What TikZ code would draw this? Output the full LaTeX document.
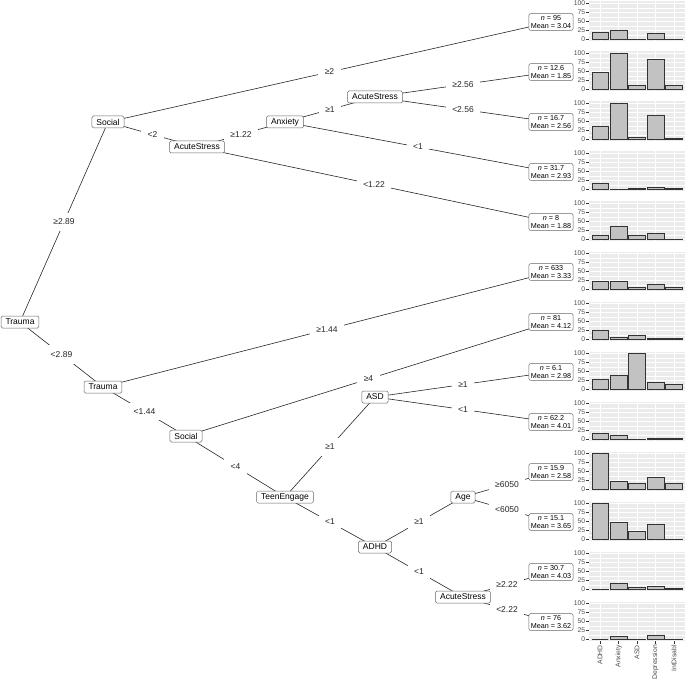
\documentclass[tikz,border=0pt]{standalone}
\usepackage{fontspec}
\setmainfont{Liberation Sans}
\usepackage{tikz}
\usepackage{xcolor}
\usetikzlibrary{calc}
\pgfdeclarelayer{back}
\pgfsetlayers{back,main}
\definecolor{panelgrey}{HTML}{EBEBEB}
\definecolor{bargrey}{HTML}{C2C2C2}
\definecolor{axisgrey}{HTML}{4D4D4D}
\definecolor{tickgrey}{HTML}{333333}

\begin{document}
\begin{tikzpicture}[x=1pt,y=-1pt]
        \tikzstyle{split}=[draw=black!60,fill=white,line width=0.5pt,rounded corners=1.5pt,inner xsep=4.5pt,inner ysep=0pt,minimum height=12pt,font=\fontsize{8.5}{10}\selectfont]
        \tikzstyle{leaf}=[draw=black!60,fill=white,line width=0.5pt,rounded corners=2pt,inner xsep=2pt,inner ysep=1.5pt,align=center,font=\fontsize{7.2}{8.8}\selectfont]
        \tikzstyle{cut}=[fill=white,inner xsep=6.5pt,inner ysep=6pt,midway,font=\fontsize{8.5}{10}\selectfont,text=black!85]
        \tikzstyle{edge}=[black!85,line width=0.6pt]
        \tikzstyle{tick}=[font=\fontsize{6.8}{8}\selectfont,text=axisgrey,inner sep=0pt]
        \useasboundingbox (0,0) rectangle (685,679);
        % Splits
        \node[split] (1) at (20,322) {Trauma};
        \node[split] (2) at (108,122) {Social};
        \node[split] (4) at (197,147) {AcuteStress};
        \node[split] (5) at (285,122) {Anxiety};
        \node[split] (6) at (375,97) {AcuteStress};
        \node[split] (11) at (103,387) {Trauma};
        \node[split] (13) at (186,436) {Social};
        \node[split] (15) at (285,497) {TeenEngage};
        \node[split] (16) at (375,397) {ASD};
        \node[split] (19) at (375,547) {ADHD};
        \node[split] (20) at (463,497) {Age};
        \node[split] (23) at (463,597) {AcuteStress};
        % Leaves
        \node[leaf] (3) at (551,22) {\textit{n} = 95\\Mean = 3.04};
        \node[leaf] (7) at (551,72) {\textit{n} = 12.6\\Mean = 1.85};
        \node[leaf] (8) at (551,122) {\textit{n} = 16.7\\Mean = 2.56};
        \node[leaf] (9) at (551,172) {\textit{n} = 31.7\\Mean = 2.93};
        \node[leaf] (10) at (551,222) {\textit{n} = 8\\Mean = 1.88};
        \node[leaf] (12) at (551,272) {\textit{n} = 633\\Mean = 3.33};
        \node[leaf] (14) at (551,322) {\textit{n} = 81\\Mean = 4.12};
        \node[leaf] (17) at (551,372) {\textit{n} = 6.1\\Mean = 2.98};
        \node[leaf] (18) at (551,422) {\textit{n} = 62.2\\Mean = 4.01};
        \node[leaf] (21) at (551,472) {\textit{n} = 15.9\\Mean = 2.58};
        \node[leaf] (22) at (551,522) {\textit{n} = 15.1\\Mean = 3.65};
        \node[leaf] (24) at (551,572) {\textit{n} = 30.7\\Mean = 4.03};
        \node[leaf] (25) at (551,622) {\textit{n} = 76\\Mean = 3.62};
        % Edges
        \begin{pgfonlayer}{back}
        \draw[edge] (1.center)--(2.center) node[cut] {≥2.89};
        \draw[edge] (2.center)--(3.center) node[cut] {≥2};
        \draw[edge] (2.center)--(4.center) node[cut] {<2};
        \draw[edge] (4.center)--(5.center) node[cut] {≥1.22};
        \draw[edge] (5.center)--(6.center) node[cut] {≥1};
        \draw[edge] (6.center)--(7.center) node[cut] {≥2.56};
        \draw[edge] (6.center)--(8.center) node[cut] {<2.56};
        \draw[edge] (5.center)--(9.center) node[cut] {<1};
        \draw[edge] (4.center)--(10.center) node[cut] {<1.22};
        \draw[edge] (1.center)--(11.center) node[cut] {<2.89};
        \draw[edge] (11.center)--(12.center) node[cut] {≥1.44};
        \draw[edge] (11.center)--(13.center) node[cut] {<1.44};
        \draw[edge] (13.center)--(14.center) node[cut] {≥4};
        \draw[edge] (13.center)--(15.center) node[cut] {<4};
        \draw[edge] (15.center)--(16.center) node[cut] {≥1};
        \draw[edge] (16.center)--(17.center) node[cut] {≥1};
        \draw[edge] (16.center)--(18.center) node[cut] {<1};
        \draw[edge] (15.center)--(19.center) node[cut] {<1};
        \draw[edge] (19.center)--(20.center) node[cut] {≥1};
        \draw[edge] (20.center)--(21.center) node[cut] {≥6050};
        \draw[edge] (20.center)--(22.center) node[cut] {<6050};
        \draw[edge] (19.center)--(23.center) node[cut] {<1};
        \draw[edge] (23.center)--(24.center) node[cut] {≥2.22};
        \draw[edge] (23.center)--(25.center) node[cut] {<2.22};
        \end{pgfonlayer}
        % Bar plots, one per leaf
        \foreach \k/\a/\b/\c/\d/\e in {0/20/25/1/18/1, 1/47/100/10/83/11, 2/37/100/7/68/2,
            3/16/1/2/7/3, 4/11/36/11/16/1, 5/21/21/7/14/6, 6/25/7/10/4/4, 7/27/40/100/20/14,
            8/16/11/1/3/4, 9/100/22/16/33/18, 10/100/47/21/43/1, 11/0.5/16/7/8/3, 12/0/9/1/10/1} {
            \pgfmathsetmacro{\z}{39.3+50*\k}
            \fill[panelgrey] (589,\z+1.8) rectangle (685,\z-37.8);
            \foreach \v in {12.5,37.5,62.5,87.5}
                \draw[white,line width=0.25pt] (589,\z-0.36*\v) -- (685,\z-0.36*\v);
            \foreach \v in {0,25,50,75,100} {
                \draw[white,line width=0.5pt] (589,\z-0.36*\v) -- (685,\z-0.36*\v);
                \draw[tickgrey,line width=0.5pt] (586.3,\z-0.36*\v) -- (589,\z-0.36*\v);
                \node[tick,anchor=east] (y\k-\v) at (585.3,\z-0.36*\v) {\v};
            }
            \foreach \i in {1,...,5}
                \draw[white,line width=0.5pt] ({589+18.46*(\i-0.4)},\z+1.8) -- ({589+18.46*(\i-0.4)},\z-37.8);
            \foreach \i/\v in {1/\a,2/\b,3/\c,4/\d,5/\e}
                \draw[tickgrey,fill=bargrey,line width=0.5pt] ({589+18.46*(\i-0.4)-8.3},\z) rectangle ({589+18.46*(\i-0.4)+8.3},{\z-0.36*\v});
        }
        % Axis under the last plot
        \foreach \i/\t in {1/ADHD,2/Anxiety,3/ASD,4/Depression,5/IntDisabl} {
            \draw[tickgrey,line width=0.5pt] ({589+18.46*(\i-0.4)},641.1) -- ({589+18.46*(\i-0.4)},643.8);
            \node[tick,rotate=90,anchor=east] (x\i) at ({589+18.46*(\i-0.4)},645) {\t};
        }
\end{tikzpicture}
\end{document}
